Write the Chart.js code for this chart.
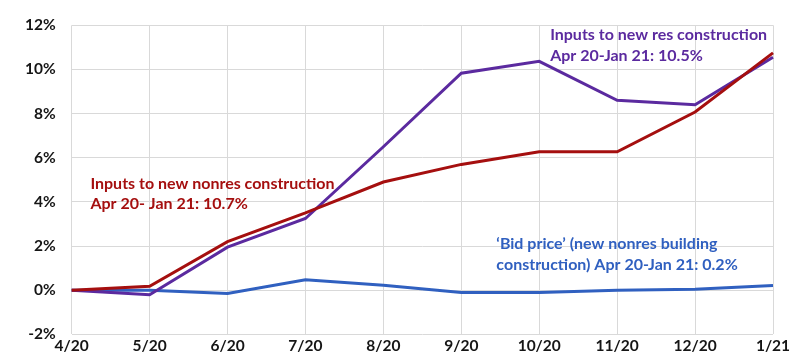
<!DOCTYPE html>
<html>
<head>
<meta charset="utf-8">
<script src="https://cdn.jsdelivr.net/npm/chart.js@4"></script>
<style>
html,body{margin:0;padding:0;background:#fff;}
#wrap{width:800px;height:361px;position:relative;}
</style>
</head>
<body>
<div id="wrap"><canvas id="c" width="800" height="361"></canvas></div>
<script>
const categories = ['4/20','5/20','6/20','7/20','8/20','9/20','10/20','11/20','12/20','1/21'];
const nonresInputs = [0, 0.18, 2.2, 3.5, 4.9, 5.7, 6.27, 6.27, 8.07, 10.75];
const resInputs = [0, -0.2, 1.95, 3.25, 6.5, 9.83, 10.37, 8.6, 8.4, 10.55];
const bidPrice = [0, 0.0, -0.15, 0.47, 0.23, -0.1, -0.1, 0.0, 0.05, 0.22];
const yTicks = [-2, 0, 2, 4, 6, 8, 10, 12];

const annotations = [
  {lines:['Inputs to new res construction','Apr 20-Jan 21: 10.5%'], color:'#5b2a9f', x:6.14, y:11.55},
  {lines:['Inputs to new nonres construction','Apr 20- Jan 21: 10.7%'], color:'#a50f0f', x:0.24, y:4.83},
  {lines:['\u2018Bid price\u2019 (new nonres building','construction) Apr 20-Jan 21: 0.2%'], color:'#3060c0', x:5.45, y:2.08}
];

const annotationPlugin = {
  id:'annot',
  afterDatasetsDraw(chart){
    const ctx = chart.ctx;
    const xs = chart.scales.x, ys = chart.scales.y;
    const step = xs.getPixelForValue(1) - xs.getPixelForValue(0);
    ctx.save();
    ctx.font = 'bold 16px Lato, "Open Sans", sans-serif';
    ctx.textBaseline = 'middle';
    ctx.textAlign = 'left';
    annotations.forEach(a=>{
      ctx.fillStyle = a.color;
      const px = xs.getPixelForValue(0) + a.x*step;
      const py = ys.getPixelForValue(a.y);
      a.lines.forEach((l,i)=>ctx.fillText(l, px, py + i*20.5));
    });
    ctx.restore();
  }
};

const tickFont = {family:'Lato, "Open Sans", sans-serif', size:15.5, weight:'bold'};

new Chart(document.getElementById('c'), {
  type:'line',
  data:{
    labels:categories,
    datasets:[
      {label:'Inputs to new nonres construction', data:nonresInputs, borderColor:'#a50f0f', borderWidth:3, pointRadius:0, tension:0, fill:false},
      {label:'Inputs to new res construction', data:resInputs, borderColor:'#5b2a9f', borderWidth:3, pointRadius:0, tension:0, fill:false},
      {label:'Bid price', data:bidPrice, borderColor:'#3060c0', borderWidth:3, pointRadius:0, tension:0, fill:false}
    ]
  },
  options:{
    responsive:false,
    animation:false,
    layout:{padding:{left:9, right:27, top:13, bottom:4}},
    plugins:{legend:{display:false}, tooltip:{enabled:false}},
    scales:{
      x:{
        offset:false,
        grid:{color:'#d9d9d9', lineWidth:1, drawTicks:false},
        border:{display:false},
        ticks:{color:'#151515', font:tickFont, padding:2, maxRotation:0, autoSkip:false}
      },
      y:{
        min:-2, max:12,
        afterBuildTicks(axis){ axis.ticks = yTicks.map(v=>({value:v})); },
        grid:{color:'#d9d9d9', lineWidth:1, drawTicks:false},
        border:{display:false},
        ticks:{color:'#151515', font:tickFont, padding:16, callback:v=>v+'%'}
      }
    }
  },
  plugins:[annotationPlugin]
});
</script>
</body>
</html>
